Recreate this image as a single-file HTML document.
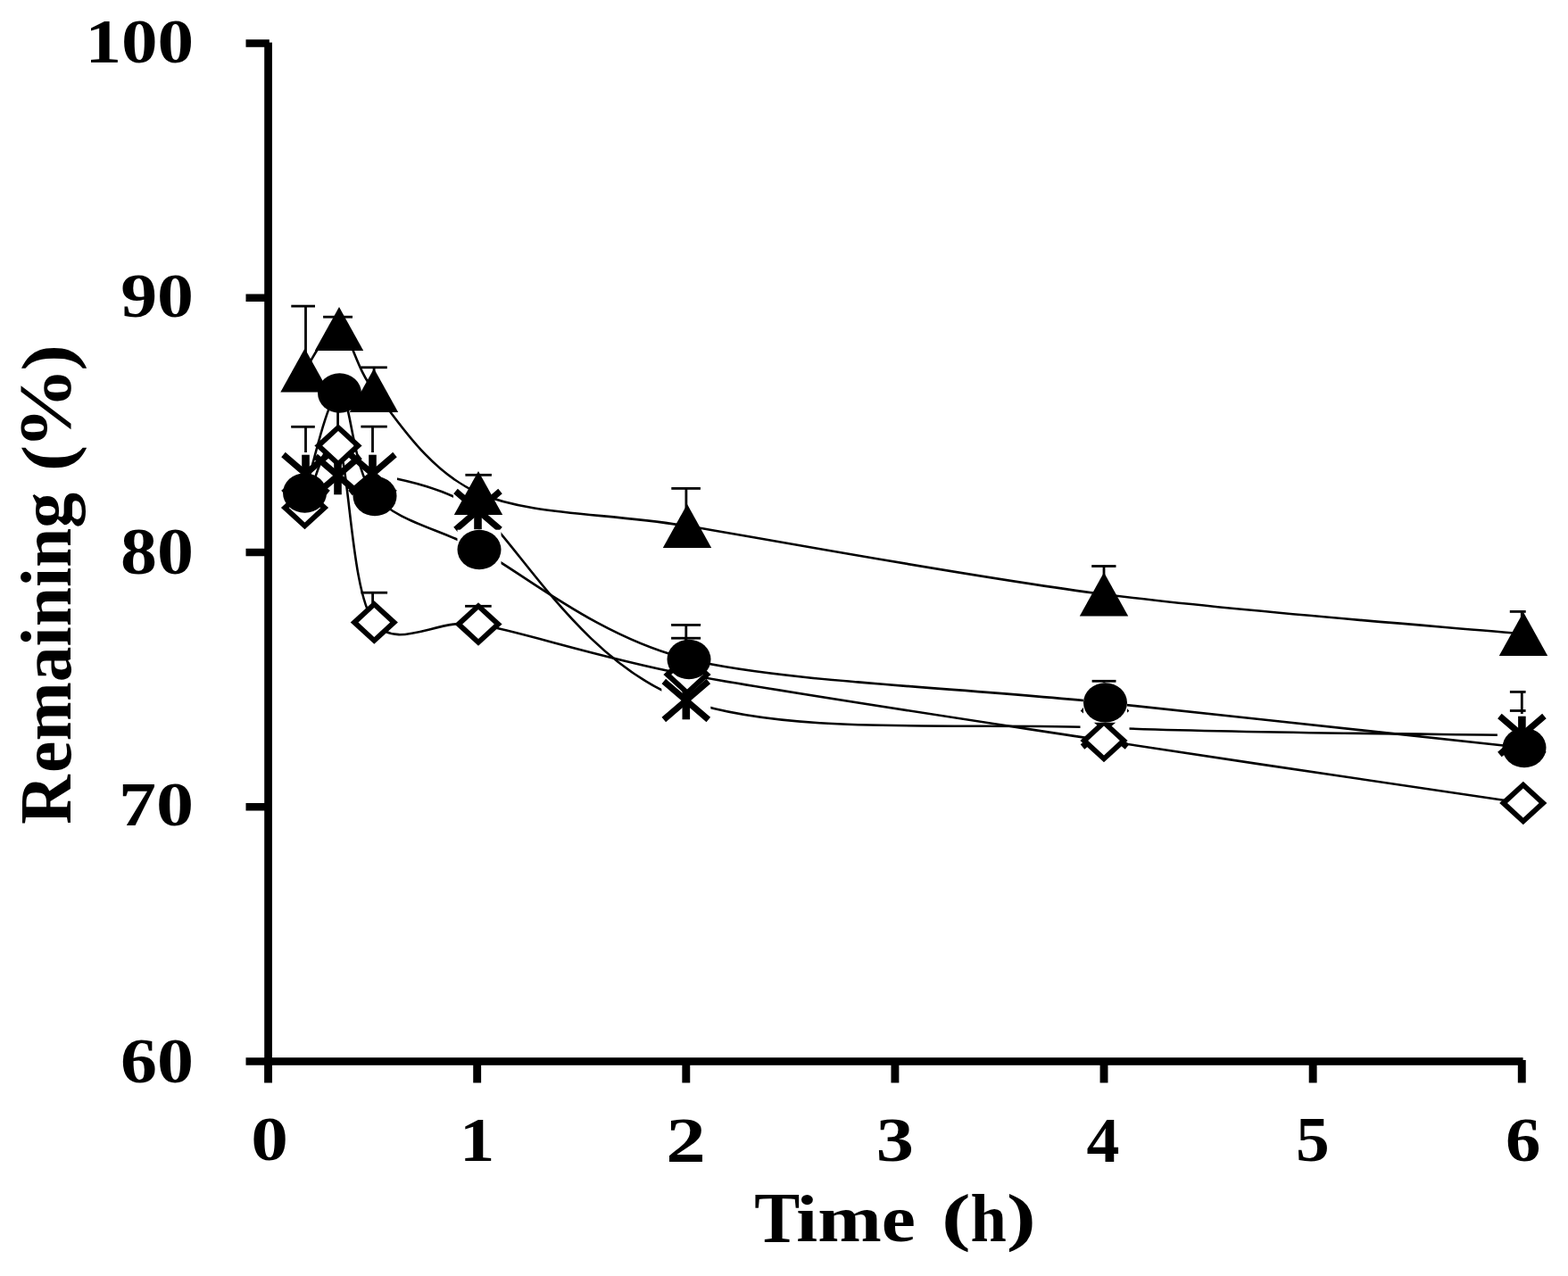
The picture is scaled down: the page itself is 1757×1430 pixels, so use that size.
<!DOCTYPE html>
<html><head><meta charset="utf-8"><title>Remaining vs Time</title>
<style>html,body{margin:0;padding:0;background:#fff;width:1757px;height:1430px;overflow:hidden}svg{display:block}</style>
</head><body>
<svg width="1757" height="1430" viewBox="0 0 1757 1430">
<rect width="100%" height="100%" fill="#fff"/>
<g id="stars">
<path d="M342.50,531.00 C348.50,531.33 366.00,533.00 378.50,533.00 C391.00,533.00 402.34,527.23 417.50,531.00 C432.66,534.77 495.01,542.72 535.50,572.00 C575.99,601.28 651.72,744.42 768.80,785.00 C885.88,825.58 1081.90,809.00 1238.00,815.50 C1394.10,822.00 1627.50,822.58 1705.40,824.00" fill="none" stroke="#000" stroke-width="2.60" stroke-linejoin="round"/>
<rect x="341.10" y="478.30" width="2.80" height="52.70" fill="#000"/>
<rect x="326.20" y="476.90" width="26.60" height="2.80" fill="#000"/>
<rect x="416.10" y="478.10" width="2.80" height="52.90" fill="#000"/>
<rect x="404.40" y="476.70" width="29.40" height="2.80" fill="#000"/>
<rect x="377.20" y="452.00" width="2.80" height="81.00" fill="#000"/>
<rect x="1703.90" y="775.40" width="2.80" height="48.60" fill="#000"/>
<rect x="1691.90" y="774.00" width="17.70" height="2.80" fill="#000"/>
<rect x="315.00" y="507.00" width="55.00" height="48.00" fill="#fff"/>
<rect x="351.00" y="509.00" width="55.00" height="48.00" fill="#fff"/>
<rect x="390.00" y="507.00" width="55.00" height="48.00" fill="#fff"/>
<rect x="508.00" y="548.00" width="55.00" height="48.00" fill="#fff"/>
<rect x="741.30" y="761.00" width="55.00" height="48.00" fill="#fff"/>
<rect x="1210.50" y="791.50" width="55.00" height="48.00" fill="#fff"/>
<rect x="1677.90" y="800.00" width="55.00" height="48.00" fill="#fff"/>
<path d="M317.50,509.50 L367.50,552.50 M367.50,509.50 L317.50,552.50" stroke="#000" stroke-width="7.00" stroke-linecap="butt" fill="none"/>
<rect x="338.20" y="509.70" width="8.60" height="42.60" fill="#000"/>
<path d="M353.50,511.50 L403.50,554.50 M403.50,511.50 L353.50,554.50" stroke="#000" stroke-width="7.00" stroke-linecap="butt" fill="none"/>
<rect x="374.20" y="511.70" width="8.60" height="42.60" fill="#000"/>
<path d="M392.50,509.50 L442.50,552.50 M442.50,509.50 L392.50,552.50" stroke="#000" stroke-width="7.00" stroke-linecap="butt" fill="none"/>
<rect x="413.20" y="509.70" width="8.60" height="42.60" fill="#000"/>
<path d="M510.50,550.50 L560.50,593.50 M560.50,550.50 L510.50,593.50" stroke="#000" stroke-width="7.00" stroke-linecap="butt" fill="none"/>
<rect x="531.20" y="550.70" width="8.60" height="42.60" fill="#000"/>
<path d="M743.80,763.50 L793.80,806.50 M793.80,763.50 L743.80,806.50" stroke="#000" stroke-width="7.00" stroke-linecap="butt" fill="none"/>
<rect x="764.50" y="763.70" width="8.60" height="42.60" fill="#000"/>
<path d="M1213.00,794.00 L1263.00,837.00 M1263.00,794.00 L1213.00,837.00" stroke="#000" stroke-width="7.00" stroke-linecap="butt" fill="none"/>
<rect x="1233.70" y="794.20" width="8.60" height="42.60" fill="#000"/>
<path d="M1680.40,802.50 L1730.40,845.50 M1730.40,802.50 L1680.40,845.50" stroke="#000" stroke-width="7.00" stroke-linecap="butt" fill="none"/>
<rect x="1701.10" y="802.70" width="8.60" height="42.60" fill="#000"/>
</g>
<g id="diamonds">
<path d="M341.50,569.00 C347.75,557.42 366.03,478.08 379.00,499.50 C391.97,520.92 393.13,664.17 419.30,697.50 C445.47,730.83 489.95,691.82 536.00,699.50 C582.05,707.18 675.34,738.38 770.00,756.00 C864.66,773.62 1080.87,806.00 1237.00,830.00 C1393.13,854.00 1628.50,888.33 1706.80,900.00" fill="none" stroke="#000" stroke-width="2.60" stroke-linejoin="round"/>
<rect x="416.20" y="664.20" width="2.80" height="33.30" fill="#000"/>
<rect x="404.50" y="662.80" width="29.60" height="2.80" fill="#000"/>
<rect x="534.50" y="679.30" width="2.80" height="20.20" fill="#000"/>
<rect x="521.10" y="677.90" width="29.60" height="2.80" fill="#000"/>
<rect x="767.40" y="715.20" width="2.80" height="40.80" fill="#000"/>
<rect x="752.10" y="713.80" width="33.00" height="2.80" fill="#000"/>
<rect x="1235.60" y="763.30" width="2.80" height="66.70" fill="#000"/>
<rect x="1223.60" y="761.90" width="26.90" height="2.80" fill="#000"/>
<polygon points="341.50,544.80 368.10,569.00 341.50,593.20 314.90,569.00" fill="#000"/>
<polygon points="341.50,552.60 359.30,569.00 341.50,585.40 323.70,569.00" fill="#fff"/>
<polygon points="379.00,475.30 405.60,499.50 379.00,523.70 352.40,499.50" fill="#000"/>
<polygon points="379.00,483.10 396.80,499.50 379.00,515.90 361.20,499.50" fill="#fff"/>
<polygon points="419.30,673.30 445.90,697.50 419.30,721.70 392.70,697.50" fill="#000"/>
<polygon points="419.30,681.10 437.10,697.50 419.30,713.90 401.50,697.50" fill="#fff"/>
<polygon points="536.00,675.30 562.60,699.50 536.00,723.70 509.40,699.50" fill="#000"/>
<polygon points="536.00,683.10 553.80,699.50 536.00,715.90 518.20,699.50" fill="#fff"/>
<polygon points="770.00,731.80 796.60,756.00 770.00,780.20 743.40,756.00" fill="#000"/>
<polygon points="770.00,739.60 787.80,756.00 770.00,772.40 752.20,756.00" fill="#fff"/>
<polygon points="1237.00,805.80 1263.60,830.00 1237.00,854.20 1210.40,830.00" fill="#000"/>
<polygon points="1237.00,813.60 1254.80,830.00 1237.00,846.40 1219.20,830.00" fill="#fff"/>
<polygon points="1706.80,875.80 1733.40,900.00 1706.80,924.20 1680.20,900.00" fill="#000"/>
<polygon points="1706.80,883.60 1724.60,900.00 1706.80,916.40 1689.00,900.00" fill="#fff"/>
</g>
<g id="circles">
<path d="M341.50,552.50 C348.00,533.83 367.42,439.92 380.50,440.50 C393.58,441.08 393.92,526.75 420.00,556.00 C446.08,585.25 490.33,591.74 537.00,616.00 C583.67,640.26 668.94,713.80 772.00,739.00 C875.06,764.20 1082.50,771.00 1238.50,787.50 C1394.50,804.00 1629.75,829.58 1708.00,838.00" fill="none" stroke="#000" stroke-width="2.60" stroke-linejoin="round"/>
<rect x="767.40" y="700.40" width="2.80" height="38.60" fill="#000"/>
<rect x="752.10" y="699.00" width="33.00" height="2.80" fill="#000"/>
<rect x="1703.90" y="796.50" width="2.80" height="1.30" fill="#000"/>
<rect x="1691.90" y="795.10" width="17.70" height="2.80" fill="#000"/>
<ellipse cx="341.50" cy="552.50" rx="24.50" ry="22.30" fill="#000"/>
<ellipse cx="380.50" cy="440.50" rx="24.50" ry="22.30" fill="#000"/>
<ellipse cx="420.00" cy="556.00" rx="24.50" ry="22.30" fill="#000"/>
<rect x="512.50" y="593.70" width="49.00" height="44.60" fill="#fff"/>
<ellipse cx="537.00" cy="616.00" rx="24.50" ry="22.30" fill="#000"/>
<ellipse cx="772.00" cy="739.00" rx="24.50" ry="22.30" fill="#000"/>
<rect x="1214.00" y="765.20" width="49.00" height="44.60" fill="#fff"/>
<ellipse cx="1238.50" cy="787.50" rx="24.50" ry="22.30" fill="#000"/>
<ellipse cx="1708.00" cy="838.00" rx="24.50" ry="22.30" fill="#000"/>
</g>
<g id="tris">
<path d="M341.50,415.00 C347.92,407.25 367.08,364.75 380.00,368.50 C392.92,372.25 398.50,413.32 419.00,437.50 C439.50,461.68 477.50,527.17 536.00,552.50 C594.50,577.83 676.46,574.35 770.00,589.50 C863.54,604.65 1080.83,645.83 1237.00,666.00 C1393.17,686.17 1628.67,703.08 1707.00,710.50" fill="none" stroke="#000" stroke-width="2.60" stroke-linejoin="round"/>
<rect x="341.10" y="343.10" width="2.80" height="71.90" fill="#000"/>
<rect x="326.30" y="341.70" width="26.70" height="2.80" fill="#000"/>
<rect x="377.10" y="355.20" width="2.80" height="13.30" fill="#000"/>
<rect x="362.10" y="353.80" width="32.90" height="2.80" fill="#000"/>
<rect x="417.70" y="411.80" width="2.80" height="25.70" fill="#000"/>
<rect x="404.40" y="410.40" width="29.40" height="2.80" fill="#000"/>
<rect x="534.70" y="532.30" width="2.80" height="20.20" fill="#000"/>
<rect x="521.40" y="530.90" width="29.50" height="2.80" fill="#000"/>
<rect x="767.50" y="547.40" width="2.80" height="42.10" fill="#000"/>
<rect x="752.30" y="546.00" width="32.60" height="2.80" fill="#000"/>
<rect x="1235.60" y="634.50" width="2.80" height="31.50" fill="#000"/>
<rect x="1223.20" y="633.10" width="27.30" height="2.80" fill="#000"/>
<rect x="1703.90" y="685.40" width="2.80" height="25.10" fill="#000"/>
<rect x="1691.80" y="684.00" width="17.90" height="2.80" fill="#000"/>
<polygon points="341.50,390.50 314.30,439.50 368.70,439.50" fill="#000"/>
<polygon points="380.00,344.00 352.80,393.00 407.20,393.00" fill="#000"/>
<polygon points="419.00,413.00 391.80,462.00 446.20,462.00" fill="#000"/>
<polygon points="536.00,528.00 508.80,577.00 563.20,577.00" fill="#000"/>
<polygon points="770.00,565.00 742.80,614.00 797.20,614.00" fill="#000"/>
<polygon points="1237.00,641.50 1209.80,690.50 1264.20,690.50" fill="#000"/>
<polygon points="1707.00,686.00 1679.80,735.00 1734.20,735.00" fill="#000"/>
</g>
<g fill="#000">
<rect x="296.20" y="47.60" width="8.70" height="1146.20"/>
<rect x="296.20" y="1185.20" width="1410.40" height="8.60"/>
<rect x="275.50" y="1185.25" width="26.30" height="8.50"/>
<rect x="275.50" y="900.01" width="26.30" height="8.50"/>
<rect x="275.50" y="614.77" width="26.30" height="8.50"/>
<rect x="275.50" y="329.53" width="26.30" height="8.50"/>
<rect x="275.50" y="44.29" width="26.30" height="8.50"/>
<rect x="296.10" y="1189.00" width="8.90" height="24.50"/>
<rect x="530.22" y="1189.00" width="8.90" height="24.50"/>
<rect x="764.34" y="1189.00" width="8.90" height="24.50"/>
<rect x="998.46" y="1189.00" width="8.90" height="24.50"/>
<rect x="1232.58" y="1189.00" width="8.90" height="24.50"/>
<rect x="1466.70" y="1189.00" width="8.90" height="24.50"/>
<rect x="1700.82" y="1188.00" width="8.90" height="25.50"/>
</g>
<text transform="matrix(0.81114 0 0 0.70074 95.41 70.00)" style="font-family:'Liberation Serif','Times New Roman',serif;font-weight:bold;font-size:100px">100</text>
<text transform="matrix(0.81818 0 0 0.69333 135.19 355.21)" style="font-family:'Liberation Serif','Times New Roman',serif;font-weight:bold;font-size:100px">90</text>
<text transform="matrix(0.81916 0 0 0.73185 135.10 643.07)" style="font-family:'Liberation Serif','Times New Roman',serif;font-weight:bold;font-size:100px">80</text>
<text transform="matrix(0.84088 0 0 0.68741 133.01 925.31)" style="font-family:'Liberation Serif','Times New Roman',serif;font-weight:bold;font-size:100px">70</text>
<text transform="matrix(0.82004 0 0 0.72741 135.01 1213.07)" style="font-family:'Liberation Serif','Times New Roman',serif;font-weight:bold;font-size:100px">60</text>
<text transform="matrix(0.83255 0 0 0.69185 281.24 1300.41)" style="font-family:'Liberation Serif','Times New Roman',serif;font-weight:bold;font-size:100px">0</text>
<text transform="matrix(0.78533 0 0 0.70303 515.02 1301.10)" style="font-family:'Liberation Serif','Times New Roman',serif;font-weight:bold;font-size:100px">1</text>
<text transform="matrix(0.89157 0 0 0.71450 746.36 1301.50)" style="font-family:'Liberation Serif','Times New Roman',serif;font-weight:bold;font-size:100px">2</text>
<text transform="matrix(0.84346 0 0 0.70387 981.69 1300.80)" style="font-family:'Liberation Serif','Times New Roman',serif;font-weight:bold;font-size:100px">3</text>
<text transform="matrix(0.73876 0 0 0.71884 1217.57 1301.50)" style="font-family:'Liberation Serif','Times New Roman',serif;font-weight:bold;font-size:100px">4</text>
<text transform="matrix(0.75414 0 0 0.71128 1452.08 1300.79)" style="font-family:'Liberation Serif','Times New Roman',serif;font-weight:bold;font-size:100px">5</text>
<text transform="matrix(0.78719 0 0 0.69048 1686.92 1300.51)" style="font-family:'Liberation Serif','Times New Roman',serif;font-weight:bold;font-size:100px">6</text>
<text transform="matrix(0.76572 0 0 0.80458 845.17 1391.50)" style="font-family:'Liberation Serif','Times New Roman',serif;font-weight:bold;font-size:100px">T</text>
<text transform="matrix(0.85932 0 0 0.74964 892.31 1390.83)" style="font-family:'Liberation Serif','Times New Roman',serif;font-weight:bold;font-size:100px">ime</text>
<text transform="matrix(0.98054 0 0 0.71555 1054.89 1388.46)" style="font-family:'Liberation Serif','Times New Roman',serif;font-weight:bold;font-size:100px">(</text>
<text transform="matrix(0.72481 0 0 0.75360 1087.39 1391.10)" style="font-family:'Liberation Serif','Times New Roman',serif;font-weight:bold;font-size:100px">h</text>
<text transform="matrix(0.99611 0 0 0.71555 1127.81 1388.46)" style="font-family:'Liberation Serif','Times New Roman',serif;font-weight:bold;font-size:100px">)</text>
<text transform="matrix(0 -0.76611 0.83511 0 78.80 923.80)" style="font-family:'Liberation Serif','Times New Roman',serif;font-weight:bold;font-size:100px">R</text>
<text transform="matrix(0 -0.79621 0.80437 0 78.82 865.91)" style="font-family:'Liberation Serif','Times New Roman',serif;font-weight:bold;font-size:100px">emaining</text>
<text transform="matrix(0 -0.87549 0.80375 0 79.68 527.95)" style="font-family:'Liberation Serif','Times New Roman',serif;font-weight:bold;font-size:100px">(</text>
<text transform="matrix(0 -0.91532 0.81563 0 78.14 503.33)" style="font-family:'Liberation Serif','Times New Roman',serif;font-weight:bold;font-size:100px">%</text>
<text transform="matrix(0 -0.87938 0.80375 0 79.68 415.51)" style="font-family:'Liberation Serif','Times New Roman',serif;font-weight:bold;font-size:100px">)</text>
</svg>
</body></html>
